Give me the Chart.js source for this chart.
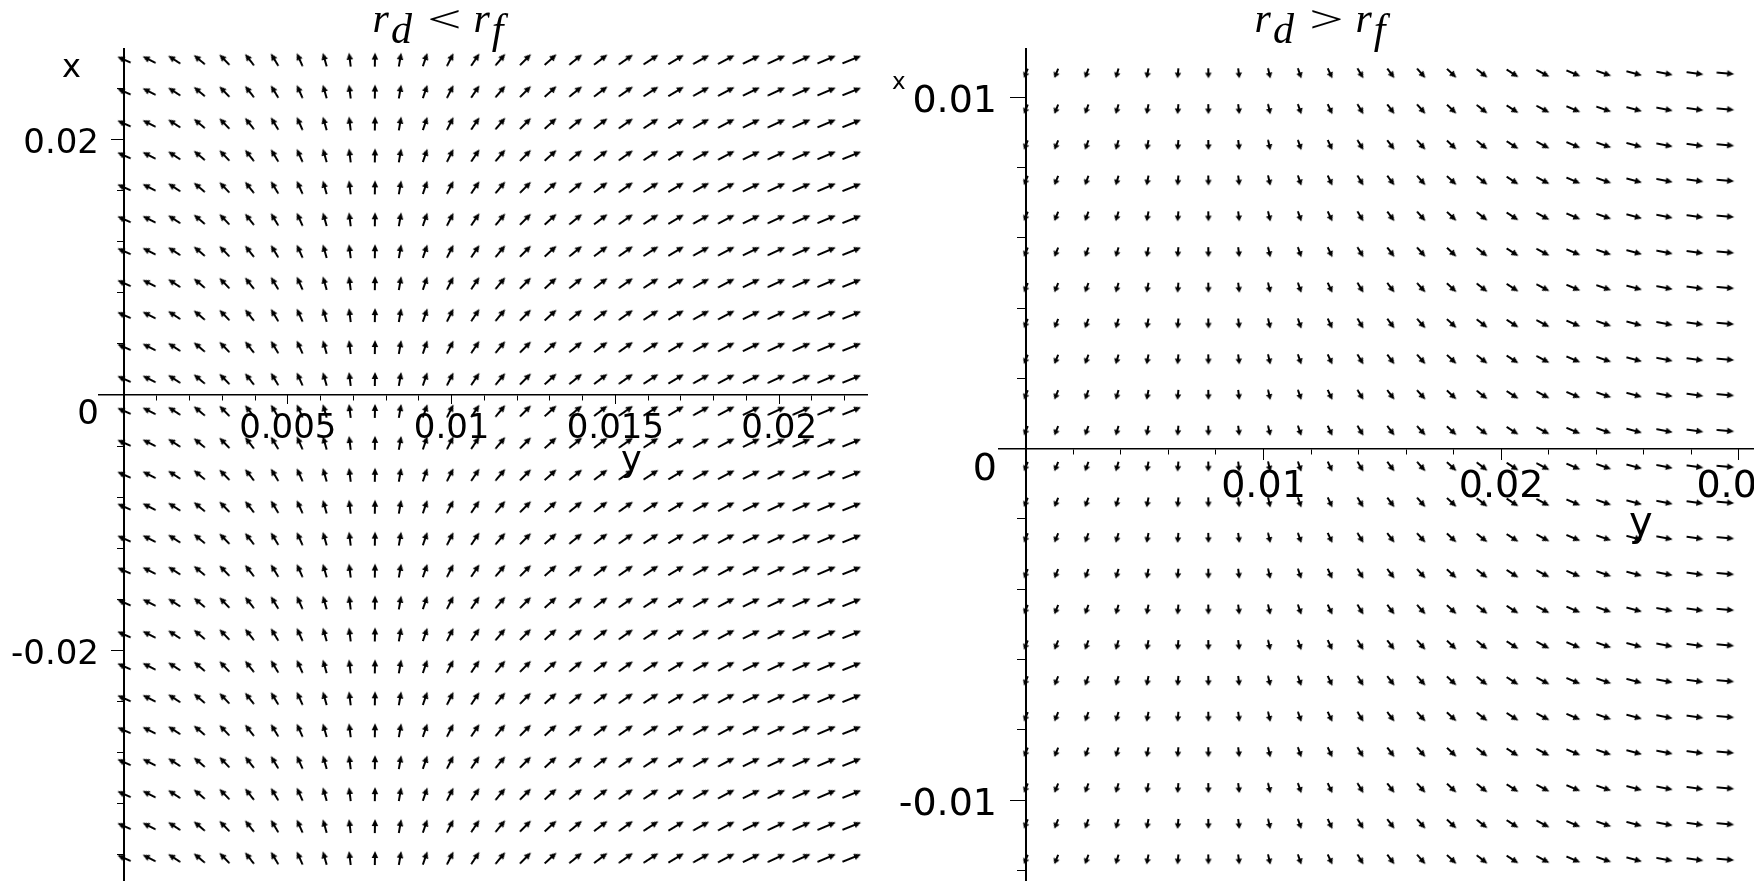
<!DOCTYPE html>
<html>
<head>
<meta charset="utf-8">
<script src="https://cdn.jsdelivr.net/npm/chart.js@4.4.1/dist/chart.umd.min.js"></script>
<style>
  html, body { margin: 0; padding: 0; background: #fff; overflow: hidden; }
  body { width: 1754px; height: 881px; position: relative; }
  canvas { position: absolute; top: 0; }
  #leftChart { left: 0; }
  #rightChart { left: 880px; }
  .ttl { position: absolute; top: -3px; font-family: 'Liberation Serif', serif; font-style: italic;
         font-size: 42px; line-height: 1; white-space: nowrap; transform: translateX(-50%); }
  .ttl sub { font-size: 42px; vertical-align: -11px; line-height: 0; margin-left: 2px; }
  .ttl .rel { display: inline-block; font-style: normal; font-size: 38px; line-height: 0;
              transform: scaleX(1.6); margin: 0 18px 0 22px; }
  .lab { position: absolute; font-family: 'DejaVu Sans', sans-serif; line-height: 1; }
</style>
</head>
<body>
<canvas id="leftChart" width="880" height="900"></canvas>
<canvas id="rightChart" width="920" height="900"></canvas>

<div class="ttl" style="left:438px">r<sub>d</sub><span class="rel">&lt;</span>r<sub>f</sub></div>
<div class="ttl" style="left:1320px">r<sub>d</sub><span class="rel">&gt;</span>r<sub>f</sub></div>

<div class="lab" style="left:62px; top:50px; font-size:32px">x</div>
<div class="lab" style="left:621px; top:442px; font-size:35px">y</div>
<div class="lab" style="left:892px; top:70px; font-size:23px">x</div>
<div class="lab" style="left:1629px; top:501px; font-size:40px">y</div>

<script>
// ---- left panel: r_d < r_f ----
// grid columns (horizontal axis "y") and rows (vertical axis "x")
const leftCols = [0, 0.000766, 0.001532, 0.002298, 0.003064, 0.00383, 0.004596, 0.005362, 0.006128, 0.006894,
  0.00766, 0.008426, 0.009192, 0.009958, 0.010724, 0.01149, 0.012256, 0.013022, 0.013788, 0.014554,
  0.01532, 0.016086, 0.016852, 0.017618, 0.018384, 0.01915, 0.019916, 0.020682, 0.021448, 0.022214];
const leftRows = [0.02625, 0.02375, 0.02125, 0.01875, 0.01625, 0.01375, 0.01125, 0.00875, 0.00625, 0.00375, 0.00125,
  -0.00125, -0.00375, -0.00625, -0.00875, -0.01125, -0.01375, -0.01625, -0.01875, -0.02125, -0.02375,
  -0.02625, -0.02875, -0.03125, -0.03375, -0.03625];
// arrow direction (degrees, counter-clockwise from +y axis) and relative length, per column
const leftAngles = [156, 153, 147, 140, 134, 128, 121, 114, 106, 97,
  89, 80, 71, 63, 56, 50, 45, 42, 39, 37,
  35, 33, 31, 29, 28, 26, 25, 24, 23, 22];
const leftMags = [0.72, 0.72, 0.72, 0.72, 0.72, 0.72, 0.72, 0.71, 0.7, 0.7,
  0.7, 0.7, 0.7, 0.72, 0.74, 0.76, 0.78, 0.8, 0.82, 0.84,
  0.86, 0.88, 0.9, 0.91, 0.93, 0.94, 0.96, 0.97, 0.99, 1.0];
const leftHTicks = [0.005, 0.01, 0.015, 0.02];
const leftHLabels = ['0.005', '0.01', '0.015', '0.02'];
const leftVTicks = [0.02, 0, -0.02];
const leftVLabels = ['0.02', '0', '-0.02'];

// ---- right panel: r_d > r_f ----
const rightCols = [0, 0.00128, 0.00256, 0.00384, 0.00512, 0.0064, 0.00768, 0.00896, 0.01024, 0.01152,
  0.0128, 0.01408, 0.01536, 0.01664, 0.01792, 0.0192, 0.02048, 0.02176, 0.02304, 0.02432,
  0.0256, 0.02688, 0.02816, 0.02944];
const rightRows = [0.01068, 0.00966, 0.00864, 0.00763, 0.00661, 0.00559, 0.00458, 0.00356, 0.00254, 0.00153, 0.00051,
  -0.00051, -0.00153, -0.00254, -0.00356, -0.00458, -0.00559, -0.00661, -0.00763, -0.00864, -0.00966,
  -0.01068, -0.01169];
const rightAngles = [-112, -112, -110, -106, -101, -95, -89, -83, -77, -71,
  -65, -59, -53, -48, -43, -38, -33, -28, -23, -19,
  -15, -11, -8, -5];
const rightMags = [0.5, 0.5, 0.5, 0.5, 0.5, 0.5, 0.5, 0.5, 0.52, 0.53,
  0.55, 0.58, 0.6, 0.63, 0.65, 0.68, 0.7, 0.73, 0.75, 0.78,
  0.8, 0.83, 0.85, 0.88];
const rightHTicks = [0.01, 0.02, 0.03];
const rightHLabels = ['0.01', '0.02', '0.03'];
const rightVTicks = [0.01, 0, -0.01];
const rightVLabels = ['0.01', '0', '-0.01'];

const ARROW_UNIT = 20; // px for relative length 1

function makeArrow(len) {
  const head = Math.min(7, len * 0.55), hw = 3.2;
  const c = document.createElement('canvas');
  c.width = Math.ceil(len) + 4;
  c.height = 12;
  const g = c.getContext('2d');
  const x0 = (c.width - len) / 2, x1 = x0 + len, cy = c.height / 2;
  g.strokeStyle = '#000';
  g.fillStyle = '#000';
  g.lineWidth = 2;
  g.beginPath(); g.moveTo(x0, cy); g.lineTo(x1 - head + 1, cy); g.stroke();
  g.beginPath(); g.moveTo(x1, cy); g.lineTo(x1 - head, cy - hw); g.lineTo(x1 - head, cy + hw);
  g.closePath(); g.fill();
  return c;
}

function fieldDatasets(cols, rows, angles, mags) {
  return cols.map((c, k) => ({
    data: rows.map(r => ({ x: c, y: r })),
    pointStyle: makeArrow(mags[k] * ARROW_UNIT),
    pointRotation: -angles[k],
    pointRadius: 4,
    clip: false
  }));
}

// axes sit on the chart area, so they must not take layout space
const noSpace = s => {
  s.width = 0; s.height = 0;
  s.paddingLeft = 0; s.paddingRight = 0; s.paddingTop = 0; s.paddingBottom = 0;
};
const fixedTicks = values => s => { s.ticks = values.map(v => ({ value: v })); };

function buildScales(c) {
  const tickGrid = len => ({ display: true, drawOnChartArea: false, drawTicks: true, tickLength: len,
    tickColor: '#000', tickWidth: 1, color: '#000' });
  const hidden = { callback: () => '', autoSkip: false };
  return {
    x: { type: 'linear', axis: 'x', position: { y: 0 }, min: c.hMin, max: c.hMax, afterFit: noSpace,
      border: { display: true, color: '#000', width: 1.5 }, grid: tickGrid(c.hMinorLen),
      ticks: { ...hidden, stepSize: c.hStep, includeBounds: false } },
    xMaj: { type: 'linear', axis: 'x', position: { y: 0 }, min: c.hMin, max: c.hMax, afterFit: noSpace,
      afterBuildTicks: fixedTicks(c.hTicks), border: { display: false }, grid: tickGrid(c.hMajorLen),
      ticks: { font: c.font, color: '#000', padding: c.hPad, maxRotation: 0, minRotation: 0, autoSkip: false,
        callback: (v, i) => c.hLabels[i] } },
    y: { type: 'linear', axis: 'y', position: { x: 0 }, min: c.vMin, max: c.vMax, afterFit: noSpace,
      border: { display: true, color: '#000', width: 2 }, grid: tickGrid(c.vMinorLen),
      ticks: { ...hidden, stepSize: c.vStep, includeBounds: false } },
    yMaj: { type: 'linear', axis: 'y', position: { x: 0 }, min: c.vMin, max: c.vMax, afterFit: noSpace,
      afterBuildTicks: fixedTicks(c.vMajor), border: { display: false }, grid: tickGrid(c.vMajorLen),
      ticks: hidden },
    yLab: { type: 'linear', axis: 'y', position: { x: c.labelX }, min: c.vMin, max: c.vMax, afterFit: noSpace,
      afterBuildTicks: fixedTicks(c.vTicks), border: { display: false },
      grid: { display: false, drawTicks: false },
      ticks: { font: { ...c.font, lineHeight: c.zeroLH }, color: '#000', padding: 0, labelOffset: 5, autoSkip: false,
        callback: (v, i) => c.vLabels[i] === '0' ? ['', '0'] : c.vLabels[i] } }
  };
}

function makeChart(id, datasets, scales, padding) {
  return new Chart(document.getElementById(id), {
    type: 'scatter',
    data: { datasets: datasets },
    options: {
      responsive: false,
      animation: false,
      events: [],
      layout: { padding: padding },
      plugins: { legend: { display: false }, tooltip: { enabled: false }, title: { display: false } },
      scales: scales
    }
  });
}

// Left chart
makeChart('leftChart',
  fieldDatasets(leftCols, leftRows, leftAngles, leftMags),
  buildScales({
    hMin: -0.000763, hMax: 0.02268, vMin: -0.039144, vMax: 0.027082,
    hStep: 0.001, vStep: 0.004, hMinorLen: 5, vMinorLen: 6,
    hTicks: leftHTicks, hLabels: leftHLabels, hMajorLen: 9, hPad: 5,
    vMajor: [0.02, -0.02], vMajorLen: 13,
    vTicks: leftVTicks, vLabels: leftVLabels, labelX: -0.000763,
    font: { family: 'DejaVu Sans', size: 34 }, zeroLH: 0.9
  }),
  { left: 99, right: 13, top: 49, bottom: 0 });

// Right chart
makeChart('rightChart',
  fieldDatasets(rightCols, rightRows, rightAngles, rightMags),
  buildScales({
    hMin: -0.001132, hMax: 0.032369, vMin: -0.012702, vMax: 0.011372,
    hStep: 0.002, vStep: 0.002, hMinorLen: 5, vMinorLen: 8,
    hTicks: rightHTicks, hLabels: rightHLabels, hMajorLen: 11, hPad: 5,
    vMajor: [0.01, -0.01], vMajorLen: 16,
    vTicks: rightVTicks, vLabels: rightVLabels, labelX: -0.001216,
    font: { family: 'DejaVu Sans', size: 38 }, zeroLH: 0.88
  }),
  { left: 119, right: 2, top: 49, bottom: 0 });
</script>
</body>
</html>
